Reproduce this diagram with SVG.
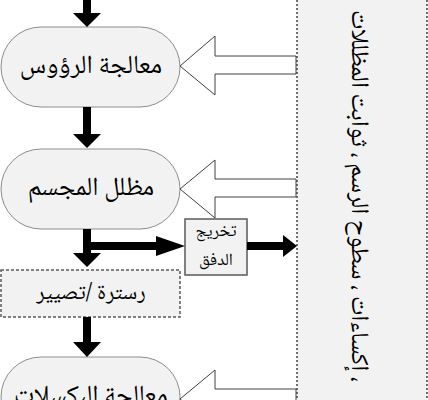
<svg xmlns="http://www.w3.org/2000/svg" width="428" height="400" viewBox="0 0 428 400">
<style>
.stage{fill:#f2f2f2;stroke:#8c8c8c;stroke-width:1}
.lbl{font-family:"Noto Naskh Arabic","Noto Sans Arabic","DejaVu Sans",sans-serif;fill:#000;text-anchor:middle;dominant-baseline:central}
.hollow{fill:#fff;stroke:#404040;stroke-width:1}
.solid{fill:#000;stroke:none}
</style>
<rect width="428" height="400" fill="#fff"/>
<g id="memory">
<rect x="297" y="-10" width="130" height="420" fill="#f2f2f2" stroke="#404040" stroke-width="1.5" stroke-dasharray="2,2"/>
<text class="lbl" transform="translate(357,196) rotate(90)" font-size="25" direction="rtl">، إكساءات ، سطوح الرسم ، ثوابت المظللات</text>
</g>
<g id="vertex">
<rect class="stage" x="1" y="27" width="179" height="80" rx="40"/>
<text class="lbl" x="91" y="67" font-size="26">معالجة الرؤوس</text>
</g>
<g id="shader">
<rect class="stage" x="1" y="149" width="179" height="80" rx="40"/>
<text class="lbl" x="91" y="189" font-size="26">مظلل المجسم</text>
</g>
<g id="stream">
<rect x="185" y="219" width="62" height="56" fill="#f2f2f2" stroke="#595959" stroke-width="1.5"/>
<text class="lbl" x="216" y="232" font-size="17">تخريج</text>
<text class="lbl" x="216" y="261" font-size="17">الدفق</text>
</g>
<g id="raster">
<rect x="1" y="270" width="179" height="47" fill="#f2f2f2" stroke="#595959" stroke-width="1.5" stroke-dasharray="3,2"/>
<text class="lbl" x="91" y="294" font-size="22">رسترة /تصيير</text>
</g>
<g id="pixel">
<rect class="stage" x="1" y="357" width="179" height="80" rx="40"/>
<text class="lbl" x="91" y="397" font-size="26">معالجة البكسلات</text>
</g>
<g id="connectors">
<polygon class="solid" points="83,-5 91,-5 91,13 101,13 87,27 73,13 83,13"/>
<polygon class="solid" points="83,107 91,107 91,134 101,134 87,148 73,134 83,134"/>
<polygon class="solid" points="83,229 91,229 91,253 101,253 87,267 73,253 83,253"/>
<polygon class="solid" points="87,242 156,242 156,236 185,246 156,256 156,250 87,250"/>
<polygon class="solid" points="247,242 283,242 283,235 297,246 283,257 283,250 247,250"/>
<polygon class="solid" points="83,317 91,317 91,342 101,342 87,357 73,342 83,342"/>
<polygon class="hollow" points="296,56 215,56 215,36 180,66 215,95 215,74 296,74"/>
<polygon class="hollow" points="296,179 215,179 215,160 180,189 215,218 215,197 296,197"/>
<polygon class="hollow" points="296,389 215,389 215,370 180,399 215,428 215,407 296,407"/>
</g>
</svg>
